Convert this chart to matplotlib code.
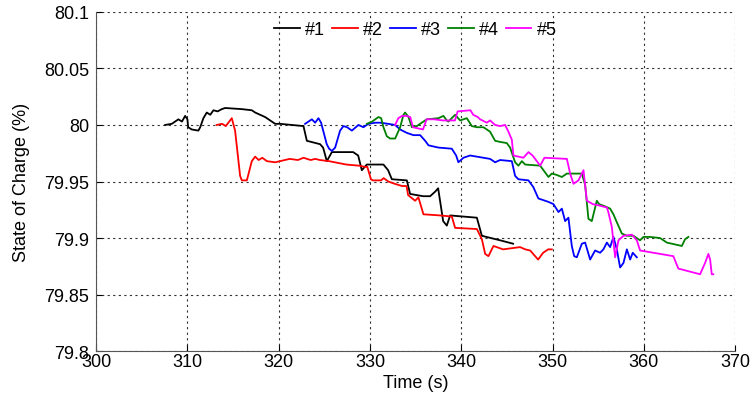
import matplotlib
matplotlib.use('Agg')
import matplotlib.pyplot as plt
from matplotlib.ticker import FixedLocator, FuncFormatter

plt.rcParams['font.family'] = ['Liberation Sans', 'DejaVu Sans']

# state of charge traces for the five cells
t1 = [307.56, 308.29, 309.01, 309.4, 309.75, 310.0, 310.08, 310.48, 311.2, 311.4, 311.75, 312.12,
      312.5, 312.85, 313.3, 313.77, 314.13, 315.96, 317.05, 317.42, 317.96, 318.51, 319.61, 320.15,
      322.71, 323.08, 324.53, 324.86, 325.27, 325.82, 328.15, 328.70, 329.10, 329.65, 331.47, 331.98,
      332.39, 334.03, 334.39, 335.82, 336.58, 337.13, 337.46, 338.01, 338.41, 338.77, 341.70, 342.25,
      344.25, 345.67]
soc1 = [80.000, 80.001, 80.005, 80.003, 80.008, 80.005, 79.998, 79.996, 79.995, 79.998, 80.006, 80.011,
        80.009, 80.013, 80.012, 80.014, 80.015, 80.014, 80.013, 80.011, 80.009, 80.007, 80.001, 80.001,
        79.999, 79.986, 79.983, 79.980, 79.968, 79.976, 79.976, 79.973, 79.960, 79.965, 79.965, 79.960,
        79.952, 79.951, 79.939, 79.937, 79.937, 79.941, 79.944, 79.915, 79.911, 79.920, 79.918, 79.902,
        79.898, 79.895]

t2 = [313.2, 313.8, 314.2, 314.86, 315.22, 315.77, 315.96, 316.51, 317.05, 317.42, 317.8, 318.2,
      318.7, 319.61, 320.15, 321.2, 322.1, 322.71, 323.5, 324.0, 324.5, 325.5, 327.4, 328.8,
      329.4, 329.7, 330.1, 330.3, 331.2, 331.5, 332.0, 332.7, 333.5, 334.0, 334.17, 334.94,
      335.30, 335.85, 337.68, 338.96, 339.32, 341.70, 342.25, 342.61, 342.97, 343.52, 344.58, 345.5,
      346.44, 347.0, 347.54, 348.41, 348.96, 349.51, 349.91]
soc2 = [80.000, 80.001, 79.999, 80.006, 79.995, 79.955, 79.951, 79.951, 79.968, 79.972, 79.969, 79.971,
        79.968, 79.967, 79.968, 79.970, 79.969, 79.971, 79.969, 79.970, 79.969, 79.968, 79.965, 79.964,
        79.963, 79.963, 79.952, 79.951, 79.951, 79.953, 79.950, 79.948, 79.946, 79.946, 79.938, 79.933,
        79.936, 79.921, 79.920, 79.919, 79.909, 79.908, 79.899, 79.886, 79.884, 79.893, 79.890, 79.891,
        79.892, 79.890, 79.889, 79.881, 79.887, 79.890, 79.890]

t3 = [322.89, 323.63, 323.99, 324.35, 324.64, 325.26, 325.52, 325.82, 326.18, 326.72, 327.09, 327.49,
      328.01, 328.73, 329.28, 329.82, 330.56, 331.11, 331.98, 332.75, 333.30, 334.03, 334.75, 335.49,
      336.04, 336.40, 337.49, 338.96, 339.43, 339.68, 340.23, 340.96, 343.15, 343.70, 344.25, 345.53,
      345.89, 346.25, 347.35, 347.89, 348.44, 349.54, 350.09, 350.64, 351.01, 351.37, 351.73, 352.10,
      352.36, 352.65, 353.20, 353.56, 354.11, 354.65, 355.20, 355.56, 355.94, 356.30, 356.66, 357.03,
      357.39, 357.76, 358.13, 358.49, 358.78, 359.22]
soc3 = [80.001, 80.005, 80.002, 80.006, 80.002, 79.983, 79.979, 79.977, 79.980, 79.995, 79.999, 79.998,
        79.995, 80.000, 79.998, 80.001, 80.002, 80.002, 80.001, 80.000, 79.996, 79.993, 79.991, 79.991,
        79.986, 79.982, 79.980, 79.979, 79.973, 79.967, 79.971, 79.973, 79.970, 79.967, 79.969, 79.968,
        79.955, 79.952, 79.951, 79.945, 79.935, 79.932, 79.930, 79.923, 79.926, 79.915, 79.918, 79.893,
        79.884, 79.883, 79.895, 79.896, 79.881, 79.889, 79.887, 79.890, 79.896, 79.892, 79.901, 79.890,
        79.874, 79.878, 79.890, 79.881, 79.887, 79.883]

t4 = [329.65, 330.23, 330.92, 331.22, 331.47, 331.84, 332.20, 332.75, 333.30, 333.66, 333.84, 334.21,
      334.58, 335.13, 335.30, 336.22, 337.49, 338.04, 338.41, 338.58, 339.32, 339.87, 340.60, 341.15,
      341.70, 342.42, 342.79, 343.15, 343.70, 344.25, 344.98, 345.34, 345.89, 346.25, 346.63, 346.99,
      348.63, 349.18, 349.54, 349.91, 350.38, 351.01, 351.56, 351.92, 353.20, 353.56, 353.92, 354.29,
      354.84, 355.09, 355.75, 356.30, 356.66, 357.03, 357.58, 358.13, 358.85, 359.58, 359.95, 360.68,
      361.77, 362.51, 364.15, 364.51, 364.87]
soc4 = [80.001, 80.003, 80.007, 80.006, 79.998, 79.990, 79.988, 79.988, 79.998, 80.009, 80.011, 80.007,
        79.998, 79.999, 80.000, 80.005, 80.006, 80.008, 80.004, 80.003, 80.009, 80.004, 80.006, 79.999,
        79.998, 79.998, 79.996, 79.994, 79.986, 79.985, 79.984, 79.980, 79.967, 79.964, 79.968, 79.965,
        79.964, 79.958, 79.954, 79.957, 79.956, 79.954, 79.957, 79.957, 79.957, 79.947, 79.917, 79.915,
        79.933, 79.930, 79.928, 79.926, 79.921, 79.914, 79.904, 79.902, 79.902, 79.898, 79.901, 79.901,
        79.900, 79.896, 79.893, 79.899, 79.901]

t5 = [332.75, 333.1, 333.5, 334.0, 334.4, 334.7, 335.8, 336.2, 337.0, 338.0, 339.0, 339.3,
      339.6, 341.0, 341.3, 341.8, 342.06, 342.79, 343.15, 343.70, 344.25, 344.80, 345.16, 345.53,
      345.71, 346.80, 347.35, 347.8, 348.27, 348.63, 349.1, 351.56, 351.92, 352.28, 352.83, 353.38,
      353.75, 354.4, 355.0, 355.94, 356.1, 356.48, 356.85, 357.21, 357.76, 358.68, 359.22, 359.58,
      363.22, 363.77, 366.15, 366.70, 367.06, 367.25, 367.43, 367.6]
soc5 = [80.000, 80.006, 80.008, 80.008, 80.007, 79.998, 79.996, 80.005, 80.005, 80.004, 80.004, 80.004,
        80.012, 80.013, 80.009, 80.007, 80.005, 80.002, 80.004, 80.000, 79.999, 80.000, 79.994, 79.987,
        79.973, 79.971, 79.976, 79.973, 79.968, 79.964, 79.971, 79.970, 79.957, 79.948, 79.951, 79.960,
        79.933, 79.930, 79.929, 79.927, 79.923, 79.910, 79.883, 79.898, 79.902, 79.903, 79.898, 79.889,
        79.884, 79.873, 79.868, 79.878, 79.886, 79.881, 79.868, 79.868]

labels = ['#1', '#2', '#3', '#4', '#5']
colors = ['k', '#ff0000', '#0000ff', '#008000', '#ff00ff']
x_ticks = [300, 310, 320, 330, 340, 350, 360, 370]
y_ticks = [79.8, 79.85, 79.9, 79.95, 80.0, 80.05, 80.1]

fig = plt.figure(figsize=(7.51, 4.02), dpi=100)
ax = fig.add_axes([0.128, 0.124, 0.851, 0.844])

for t, s, lab, c in zip([t1, t2, t3, t4, t5], [soc1, soc2, soc3, soc4, soc5], labels, colors):
    ax.plot(t, s, color=c, lw=1.3, label=lab)

ax.set_xlim(300, 370)
ax.set_ylim(79.8, 80.1)
ax.xaxis.set_major_locator(FixedLocator(x_ticks))
ax.yaxis.set_major_locator(FixedLocator(y_ticks))
ax.yaxis.set_major_formatter(FuncFormatter(lambda v, p: '%g' % round(v, 2)))
ax.grid(True, color='#333333', linestyle=(0, (2, 3)), linewidth=0.8)
ax.tick_params(direction='in', length=4, labelsize=13, colors='k')
ax.tick_params(axis='x', pad=1)
ax.tick_params(axis='y', pad=5)
for side in ['top', 'right']:
    ax.spines[side].set_visible(False)
for side in ['left', 'bottom']:
    ax.spines[side].set_color('#555555')

ax.set_xlabel('Time (s)', fontsize=13, labelpad=3)
ax.set_ylabel('State of Charge (%)', fontsize=13, labelpad=10)
ax.legend(loc='upper center', ncol=5, frameon=False, fontsize=13, handlelength=1.4,
          handletextpad=0.3, columnspacing=0.4, bbox_to_anchor=(0.5, 1.0), borderaxespad=0.1)

fig.savefig('out.png', dpi=100)
